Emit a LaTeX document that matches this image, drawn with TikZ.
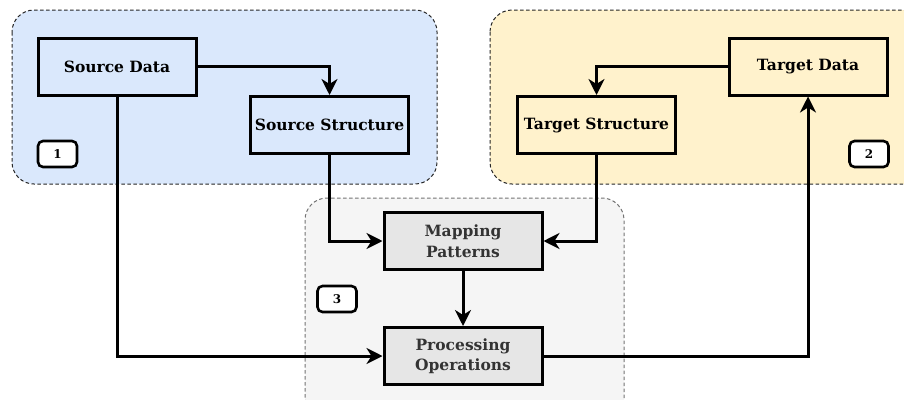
\documentclass[tikz,border=0pt]{standalone}
\usepackage{fontspec}
\setmainfont{DejaVu Serif}
\usetikzlibrary{arrows.meta}
\definecolor{bluefill}{HTML}{DAE8FC}
\definecolor{yellowfill}{HTML}{FFF2CC}
\definecolor{grayfill}{HTML}{F5F5F5}
\definecolor{boxgray}{HTML}{E6E6E6}
\definecolor{txtgray}{HTML}{333333}
\begin{document}
\begin{tikzpicture}[x=1pt,y=-1pt,
  grp/.style={draw=black!85, line width=1pt, rounded corners=22pt, dash pattern=on 3.5pt off 2.5pt},
  blk/.style={draw=black, line width=3pt, minimum width=158pt, minimum height=57pt, font=\bfseries\fontsize{15.5}{20.5}\selectfont, align=center, inner sep=0pt},
  badge/.style={draw=black, fill=white, line width=2.6pt, rounded corners=5pt, minimum width=39pt, minimum height=26pt, font=\bfseries\fontsize{12}{13}\selectfont, inner sep=0pt},
  conn/.style={line width=3pt, -{Stealth[length=16pt,width=16pt,inset=5pt]}}
]
\useasboundingbox (0,0) rectangle (904,399);
\begin{scope}
\clip (0,0) rectangle (904,399);
\draw[grp, fill=bluefill] (12,10) rectangle (437,184);
\draw[grp, fill=yellowfill] (490,10) rectangle (925,184);
\draw[grp, draw=black!55, fill=grayfill] (305,198) rectangle (624,420);
\end{scope}

\node[blk, fill=bluefill] (sd) at (117,66.5) {Source Data};
\node[blk, fill=bluefill] (ss) at (329.5,125) {Source Structure};
\node[blk, fill=yellowfill] (td) at (808,66.5) {Target Data};
\node[blk, fill=yellowfill] (ts) at (596.5,125) {Target Structure};
\node[blk, fill=boxgray, text=txtgray] (mp) at (463,241) {Mapping\\Patterns};
\node[blk, fill=boxgray, text=txtgray] (po) at (463,356) {Processing\\Operations};

\node[badge] (b1) at (57.5,154) {1};
\node[badge] (b2) at (869,154) {2};
\node[badge] (b3) at (337,299) {3};

\draw[conn] (sd.east) -| (ss.north);
\draw[conn] (td.west) -| (ts.north);
\draw[conn] (ss.south) |- (mp.west);
\draw[conn] (ts.south) |- (mp.east);
\draw[conn] (mp.south) -- (po.north);
\draw[conn] (sd.south) |- (po.west);
\draw[conn] (po.east) -| (td.south);
\end{tikzpicture}
\end{document}
